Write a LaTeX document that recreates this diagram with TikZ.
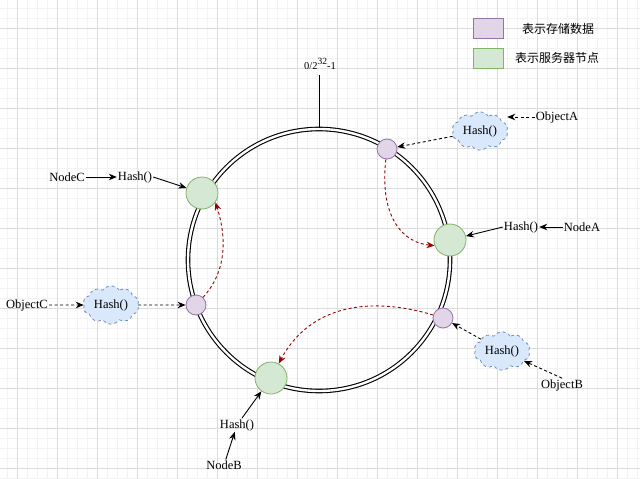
\documentclass[tikz,border=0pt]{standalone}
\usepackage{fontspec}
\setmainfont{Liberation Serif}
\newfontfamily\cjk{Noto Sans CJK SC}
\usetikzlibrary{arrows.meta,shapes.symbols}

\definecolor{gridmajor}{HTML}{DCDCDC}
\definecolor{gridminor}{HTML}{F3F3F3}
\definecolor{dataFill}{HTML}{E1D5E7}
\definecolor{dataLine}{HTML}{9673A6}
\definecolor{nodeFill}{HTML}{D5E8D4}
\definecolor{nodeLine}{HTML}{82B366}
\definecolor{hashFill}{HTML}{DAE8FC}
\definecolor{hashLine}{HTML}{6C8EBF}
\definecolor{moveRed}{HTML}{990000}

\tikzset{
  lbl/.style={font=\fontsize{12.5}{14}\selectfont, inner sep=1pt},
  legendtxt/.style={font=\cjk\fontsize{12}{14}\selectfont, inner sep=0pt},
  datapt/.style={circle, fill=dataFill, draw=dataLine, line width=0.8pt,
    minimum size=20pt, inner sep=0pt},
  server/.style={circle, fill=nodeFill, draw=nodeLine, line width=0.8pt,
    minimum size=32pt, inner sep=0pt},
  hashcloud/.style={cloud, cloud puffs=10, cloud puff arc=110, aspect=1.5,
    fill=hashFill, draw=hashLine, dashed, line width=0.8pt,
    minimum width=56pt, minimum height=36pt, inner sep=0pt,
    font=\fontsize{12.5}{14}\selectfont},
  tip/.style={-{Stealth[length=8pt,width=6.5pt]}},
  objarrow/.style={tip, dash pattern=on 3pt off 2.5pt, line width=0.9pt},
  keyarrow/.style={tip, line width=0.9pt},
  movearrow/.style={-{Stealth[length=8pt,width=6.5pt]}, draw=moveRed,
    dash pattern=on 3pt off 2.5pt, line width=0.9pt},
  legendbox/.style={minimum width=30pt, minimum height=20pt, inner sep=0pt, line width=0.8pt},
}

\begin{document}
\begin{tikzpicture}[x=1pt,y=-1pt]
  \useasboundingbox (0,0) rectangle (640,479);
  \fill[white] (0,0) rectangle (640,479);

  % background grid
  \foreach \gx in {7,17,...,637} \draw[gridminor, line width=0.5pt] (\gx,0) -- (\gx,479);
  \foreach \gy in {8,18,...,478} \draw[gridminor, line width=0.5pt] (0,\gy) -- (640,\gy);
  \foreach \gx in {17,57,...,637} \draw[gridmajor, line width=0.6pt] (\gx,0) -- (\gx,479);
  \foreach \gy in {28,68,...,468} \draw[gridmajor, line width=0.6pt] (0,\gy) -- (640,\gy);

  % legend
  \node[legendbox, fill=dataFill, draw=dataLine] (legData) at (488,28) {};
  \node[legendtxt, anchor=west] (legDataTxt) at (522,29) {表示存储数据};
  \node[legendbox, fill=nodeFill, draw=nodeLine] (legNode) at (488,58) {};
  \node[legendtxt, anchor=west] (legNodeTxt) at (515,58) {表示服务器节点};

  % hash ring
  \node[circle, draw=black, double=white, line width=1.1pt, double distance=2.4pt,
        minimum size=262pt, inner sep=0pt] (ring) at (319,260) {};
  \node[font=\fontsize{10.5}{12}\selectfont, inner sep=1pt] (zero) at (320,64)
    {0/2\raisebox{0.5em}{\fontsize{9.5}{10}\selectfont 32}-1};
  \draw[line width=0.9pt] (ring.north |- zero.south) ++(0,4) -- (ring.north);

  % data points and server nodes on the ring
  \node[datapt] (dA) at (387,149) {};
  \node[datapt] (dC) at (196,305) {};
  \node[datapt] (dB) at (443,318) {};
  \node[server] (gC) at (202,193) {};
  \node[server] (gA) at (450,240) {};
  \node[server] (gB) at (271,378) {};

  % ObjectA
  \node[lbl] (oA) at (557,117) {ObjectA};
  \node[hashcloud] (cA) at (480,131) {Hash()};
  \draw[objarrow] (oA.west) -- (oA.west -| cA.east);
  \draw[objarrow] (cA) -- (dA);

  % NodeA
  \node[lbl] (nA) at (582,227) {NodeA};
  \node[lbl] (hA) at (521,227) {Hash()};
  \draw[keyarrow] (nA.west) -- (hA.east);
  \draw[keyarrow] (hA.west) -- (gA);

  % ObjectB
  \node[lbl] (oB) at (562,385) {ObjectB};
  \node[hashcloud] (cB) at (502,351) {Hash()};
  \draw[objarrow] (oB.north) -- (cB);
  \draw[objarrow] (cB) -- (dB);

  % NodeB
  \node[lbl] (nB) at (224,465) {NodeB};
  \node[lbl] (hB) at (237,425) {Hash()};
  \draw[keyarrow] (nB) -- (hB);
  \draw[keyarrow] (hB) -- (gB);

  % ObjectC
  \node[lbl] (oC) at (27,305) {ObjectC};
  \node[hashcloud] (cC) at (111,305) {Hash()};
  \draw[objarrow] (oC.east) -- (cC.west);
  \draw[objarrow] (cC.east) -- (dC.west);

  % NodeC
  \node[lbl] (nC) at (67,177) {NodeC};
  \node[lbl] (hC) at (135,177) {Hash()};
  \draw[keyarrow] (nC.east) -- (hC.west);
  \draw[keyarrow] (hC.east) -- (gC);

  % data migrating to the next server clockwise
  \draw[movearrow] (dA) .. controls (379,220) and (405,243) .. (gA.200);
  \draw[movearrow] (dC) .. controls (228,270) and (226,235) .. (gC.-35);
  \draw[movearrow] (dB) .. controls (370,296) and (310,305) .. (gB);
\end{tikzpicture}
\end{document}
